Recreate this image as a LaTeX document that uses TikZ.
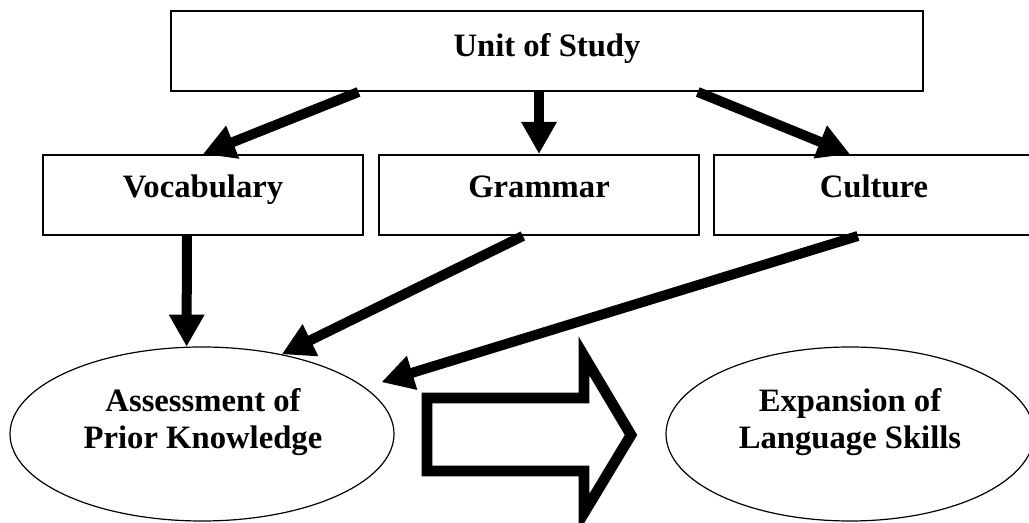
\documentclass[tikz,border=0pt]{standalone}
\usepackage{fontspec}
\setmainfont{Liberation Serif}
\usepackage{tikz}
\usetikzlibrary{arrows.meta,calc,shapes.geometric}
\tikzset{every picture/.style={line width=0.75pt}}
\newcommand{\labelfont}{\fontsize{24.5}{27.5}\selectfont\bfseries}

\begin{document}
\begin{tikzpicture}[x=0.75pt,y=0.75pt,yscale=-1,xscale=1,
  box/.style={draw, line width=1.5pt, minimum width=240pt, minimum height=60pt, inner sep=0pt, font=\labelfont, text height=16pt, text depth=12pt},
  oval/.style={draw, ellipse, line width=0.9pt, minimum width=288pt, minimum height=130.5pt, inner sep=0pt},
  txt/.style={font=\labelfont, align=center, inner sep=0pt},
  bigarrow/.style={line width=7.5pt, -{Triangle[length=24pt,width=25pt]}}]
\useasboundingbox (0,0) rectangle (1029,523);

%Shape: Rectangle
\node[box, minimum width=564pt, text depth=8pt] (unit) at (547,51) {Unit of Study};
%Shape: Rectangle
\node[box] (vocab) at (203,195) {Vocabulary};
%Shape: Rectangle
\node[box] (grammar) at (539,195) {Grammar};
%Shape: Rectangle
\node[box] (culture) at (874,195) {Culture};

%Shape: Ellipse
\node[oval] (assess) at (202,434) {};
%Shape: Ellipse
\node[oval, minimum width=276pt] (expand) at (850,434) {};

% Text Node
\node[txt] (assesstext) at (203,422) {Assessment of\\Prior Knowledge};
% Text Node
\node[txt] (expandtext) at (850,422) {Expansion of\\Language Skills};

%Straight Lines
\draw[bigarrow] ($(unit.south west)!0.25!(unit.south east)$) -- (vocab.north);
\draw[bigarrow] (unit.south -| grammar.north) -- (grammar.north);
\draw[bigarrow] ($(unit.south west)!0.7!(unit.south east)$) -- ($(culture.north west)!0.425!(culture.north east)$);
%Straight Lines
\draw[bigarrow] ($(vocab.south west)!0.45!(vocab.south east)$) -- (assess.100);
\draw[bigarrow] ($(grammar.south west)!0.45!(grammar.south east)$) -- (assess.45);
\draw[bigarrow, shorten >=13pt] ($(culture.south west)!0.45!(culture.south east)$) -- (assess.16);

%Shape: Right Arrow
\draw[line width=8pt] (427,398) -- (584,398) -- (584,356) -- (631,435) -- (584,513) -- (584,471) -- (427,471) -- cycle;

\end{tikzpicture}
\end{document}
